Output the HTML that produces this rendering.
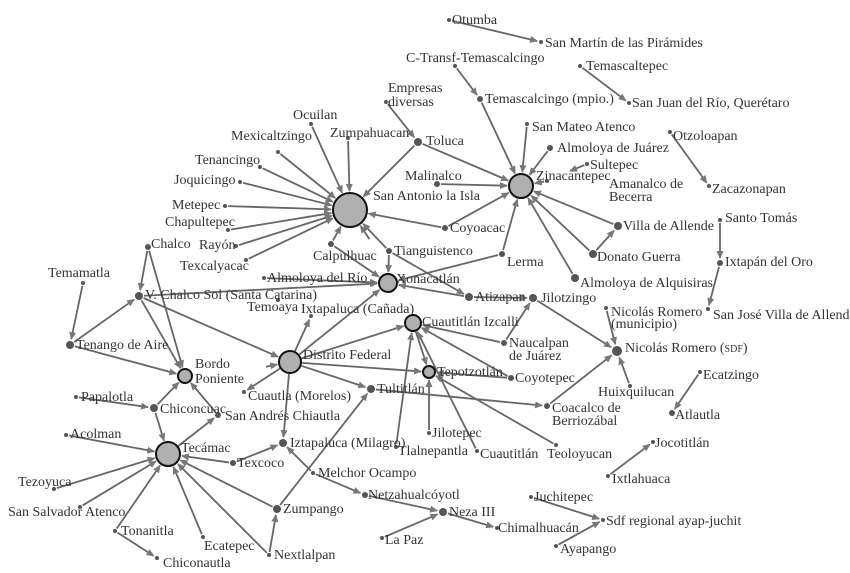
<!DOCTYPE html>
<html><head><meta charset="utf-8"><style>
html,body{margin:0;padding:0;background:#fff;}
svg{display:block}
text{font-family:"Liberation Serif",serif;font-size:14px;fill:#333;}
</style></head><body>
<svg id="s" width="850" height="573" viewBox="0 0 850 573" xmlns="http://www.w3.org/2000/svg">
<defs><marker id="a" markerWidth="8" markerHeight="8" refX="7" refY="4" orient="auto" markerUnits="userSpaceOnUse"><path d="M0,0.5 L8,4 L0,7.5 z" fill="#777"/></marker></defs>
<g id="e" stroke="#666" stroke-width="1.8" fill="none"></g>
<g id="n"></g>
<g>
<text x="452" y="24">Otumba</text>
<text x="545" y="47">San Martín de las Pirámides</text>
<text x="406" y="62">C-Transf-Temascalcingo</text>
<text x="586" y="70">Temascaltepec</text>
<text x="632" y="107">San Juan del Río, Querétaro</text>
<text x="388" y="92">Empresas</text>
<text x="388" y="106">diversas</text>
<text x="485" y="103">Temascalcingo (mpio.)</text>
<text x="293" y="119">Ocuilan</text>
<text x="231" y="140">Mexicaltzingo</text>
<text x="330" y="137">Zumpahuacan</text>
<text x="426" y="145">Toluca</text>
<text x="532" y="131">San Mateo Atenco</text>
<text x="557" y="152">Almoloya de Juárez</text>
<text x="673" y="140">Otzoloapan</text>
<text x="590" y="169">Sultepec</text>
<text x="195" y="164">Tenancingo</text>
<text x="174" y="184">Joquicingo</text>
<text x="405" y="180">Malinalco</text>
<text x="536" y="180">Zinacantepec</text>
<text x="609" y="188">Amanalco de</text>
<text x="609" y="201">Becerra</text>
<text x="712" y="193">Zacazonapan</text>
<text x="373" y="200">San Antonio la Isla</text>
<text x="172" y="209">Metepec</text>
<text x="165" y="226">Chapultepec</text>
<text x="450" y="232">Coyoacac</text>
<text x="623" y="230">Villa de Allende</text>
<text x="725" y="222">Santo Tomás</text>
<text x="151" y="248">Chalco</text>
<text x="199" y="249">Rayón</text>
<text x="313" y="260">Calpulhuac</text>
<text x="394" y="255">Tianguistenco</text>
<text x="507" y="266">Lerma</text>
<text x="597" y="261">Donato Guerra</text>
<text x="725" y="266">Ixtapán del Oro</text>
<text x="180" y="270">Texcalyacac</text>
<text x="48" y="277">Temamatla</text>
<text x="267" y="282">Almoloya del Río</text>
<text x="396" y="283">Xonacatlán</text>
<text x="580" y="287">Almoloya de Alquisiras</text>
<text x="145" y="299">V. Chalco Sol (Santa Catarina)</text>
<text x="247" y="311">Temoaya</text>
<text x="301" y="313">Ixtapaluca (Cañada)</text>
<text x="475" y="301">Atizapan</text>
<text x="541" y="302">Jilotzingo</text>
<text x="611" y="316">Nicolás Romero</text>
<text x="611" y="328">(municipio)</text>
<text x="713" y="319">San José Villa de Allende</text>
<text x="422" y="326">Cuautitlán Izcalli</text>
<text x="509" y="347">Naucalpan</text>
<text x="509" y="360">de Juárez</text>
<text x="625" y="352">Nicolás Romero (<tspan style="font-variant:small-caps">sdf</tspan>)</text>
<text x="76" y="349">Tenango de Aire</text>
<text x="303" y="359">Distrito Federal</text>
<text x="195" y="368">Bordo</text>
<text x="195" y="383">Poniente</text>
<text x="437" y="376">Tepotzotlán</text>
<text x="515" y="382">Coyotepec</text>
<text x="703" y="379">Ecatzingo</text>
<text x="598" y="396">Huixquilucan</text>
<text x="248" y="400">Cuautla (Morelos)</text>
<text x="377" y="393">Tultitlán</text>
<text x="81" y="401">Papalotla</text>
<text x="160" y="413">Chiconcuac</text>
<text x="225" y="420">San Andrés Chiautla</text>
<text x="552" y="412">Coacalco de</text>
<text x="552" y="425">Berriozábal</text>
<text x="675" y="419">Atlautla</text>
<text x="432" y="437">Jilotepec</text>
<text x="655" y="447">Jocotitlán</text>
<text x="70" y="438">Acolman</text>
<text x="181" y="452">Tecámac</text>
<text x="290" y="447">Iztapaluca (Milagro)</text>
<text x="398" y="455">Tlalnepantla</text>
<text x="480" y="458">Cuautitlán</text>
<text x="547" y="458">Teoloyucan</text>
<text x="237" y="467">Texcoco</text>
<text x="612" y="483">Ixtlahuaca</text>
<text x="318" y="477">Melchor Ocampo</text>
<text x="18" y="486">Tezoyuca</text>
<text x="368" y="499">Netzahualcóyotl</text>
<text x="534" y="501">Juchitepec</text>
<text x="8" y="516">San Salvador Atenco</text>
<text x="283" y="513">Zumpango</text>
<text x="449" y="516">Neza III</text>
<text x="606" y="525">Sdf regional ayap-juchit</text>
<text x="121" y="535">Tonanitla</text>
<text x="498" y="532">Chimalhuacán</text>
<text x="204" y="550">Ecatepec</text>
<text x="385" y="544">La Paz</text>
<text x="560" y="553">Ayapango</text>
<text x="274" y="559">Nextlalpan</text>
<text x="163" y="567">Chiconautla</text>
</g>
</svg>
<script>
var N={
SA:[350,210,17,1],ZI:[521,186,12,1],XO:[388,283,9,1],CI:[413,323,8,1],TE:[429,372,6,1],DF:[290,362,11,1],BP:[185,376,7,1],TC:[168,454,12,1],
TO:[418,142,4],MA:[437,184,3],CO:[445,228,3],TI:[389,251,3],CA:[331,244,3],LE:[502,254,3],AT:[469,297,4],JI:[533,298,4],NA:[504,343,3],CY:[511,378,3],NR:[617,351,5],HU:[630,386,2],COA:[547,406,3],TEO:[556,445,2],TU:[371,389,4],IZ:[283,443,4],ME:[313,473,2],ZU:[277,509,4],NE:[365,495,3],N3:[443,512,4],CH:[497,528,2],LP:[382,538,2],VC:[139,296,4],TA:[70,345,4],CL:[148,247,3],TM:[83,283,2],CC:[154,408,4],SAC:[218,415,3],TX:[233,463,3],TN:[115,531,2],CN:[157,558,2],NX:[269,555,2],EC:[203,537,2],TZ:[54,489,2],SS:[80,507,2],AC:[66,435,2],PA:[76,397,2],CU:[244,392,2],IC:[311,316,2],TMY:[278,300,2],AR:[264,278,2],JL:[429,433,2],TL:[396,447,2],CT:[477,451,2],
OC:[311,124,2],MX:[278,152,2],ZP:[348,138,2],TNC:[260,167,2],JQ:[240,182,2],MT:[225,206,2],CP:[228,230,2],RA:[236,246,2],TXC:[246,260,2],ED:[386,102,2],CTT:[455,66,2],TMC:[480,99,3],SM:[527,124,2],AJ:[550,148,3],SU:[587,164,2],SUE:[570,171,0],AM:[547,181,2],VA:[618,226,4],DG:[593,254,4],AQ:[575,278,4],OT:[449,20,2],SMP:[541,42,2],TMP:[580,66,2],SJ:[629,103,2],OZ:[670,132,2],ZA:[709,186,2],ST:[720,220,2],IO:[720,263,3],SJV:[708,309,2],NRM:[606,308,2],EZ:[700,372,2],AL:[672,413,3],JO:[653,442,2],IX:[608,476,2],JU:[531,497,2],SDF:[603,520,2],AY:[556,546,2],DFL:[265,367,0],SAL:[370,240,0]};
var E=[['OC','SA'],['MX','SA'],['ZP','SA'],['TNC','SA'],['JQ','SA'],['MT','SA'],['CP','SA'],['RA','SA'],['TXC','SA'],['TO','SA'],['CO','SA'],['TI','SA'],['SAL','SA'],['CA','SA'],
['ED','TO'],['TO','ZI'],['MA','ZI'],['CTT','TMC'],['TMC','ZI'],['SM','ZI'],['AJ','ZI'],['SU','SUE'],['AM','ZI'],['VA','ZI'],['DG','ZI'],['AQ','ZI'],['CO','ZI'],['LE','ZI'],['DG','VA'],
['OT','SMP'],['TMP','SJ'],['OZ','ZA'],['ST','IO'],['IO','SJV'],['LE','XO'],['TI','XO'],['TI','AT'],['AT','XO'],['AT','JI'],['JI','NR'],['NA','JI'],['NA','CI'],['CY','CI'],['CY','TE'],['COA','NR'],['HU','NR'],['NRM','NR'],['TEO','TE'],['TU','COA'],['CI','TE'],['JL','TE'],['TL','CI'],['CT','CI'],
['EZ','AL'],['IX','JO'],['JU','SDF'],['AY','SDF'],['NE','N3'],['LP','N3'],['N3','CH'],['ME','NE'],['ME','IZ'],['ZU','TU'],['TX','IZ'],['DF','IZ'],['DF','TU'],['DF','TE'],['DF','CI'],['DF','XO'],['DF','IC'],['DF','CU'],['DFL','DF'],['VC','DF'],['VC','XO'],['AR','XO'],['CA','XO'],
['CL','VC'],['CL','BP'],['TM','TA'],['TA','VC'],['TA','BP'],['VC','BP'],['CC','BP'],['SAC','BP'],['CC','TC'],['PA','CC'],['TC','SAC'],['AC','TC'],['TZ','TC'],['SS','TC'],['TN','TC'],['TN','CN'],['EC','TC'],['NX','TC'],['NX','ZU'],['ZU','TC'],['TX','TC']];
var ns="http://www.w3.org/2000/svg",ge=document.getElementById('e'),gn=document.getElementById('n');
E.forEach(function(p){var a=N[p[0]],b=N[p[1]];var dx=b[0]-a[0],dy=b[1]-a[1],d=Math.sqrt(dx*dx+dy*dy);var ra=a[2]+1,rb=b[2]+(b[2]>0?2:0);
var l=document.createElementNS(ns,'line');l.setAttribute('x1',a[0]+dx*ra/d);l.setAttribute('y1',a[1]+dy*ra/d);l.setAttribute('x2',b[0]-dx*rb/d);l.setAttribute('y2',b[1]-dy*rb/d);l.setAttribute('marker-end','url(#a)');ge.appendChild(l);});
for(var k in N){var v=N[k];if(!v[2])continue;var c=document.createElementNS(ns,'circle');c.setAttribute('cx',v[0]);c.setAttribute('cy',v[1]);c.setAttribute('r',v[2]);
if(v[3]){c.setAttribute('fill','#b0b0b0');c.setAttribute('stroke','#111');c.setAttribute('stroke-width','2');}else c.setAttribute('fill','#555');gn.appendChild(c);}
</script>
</body></html>
